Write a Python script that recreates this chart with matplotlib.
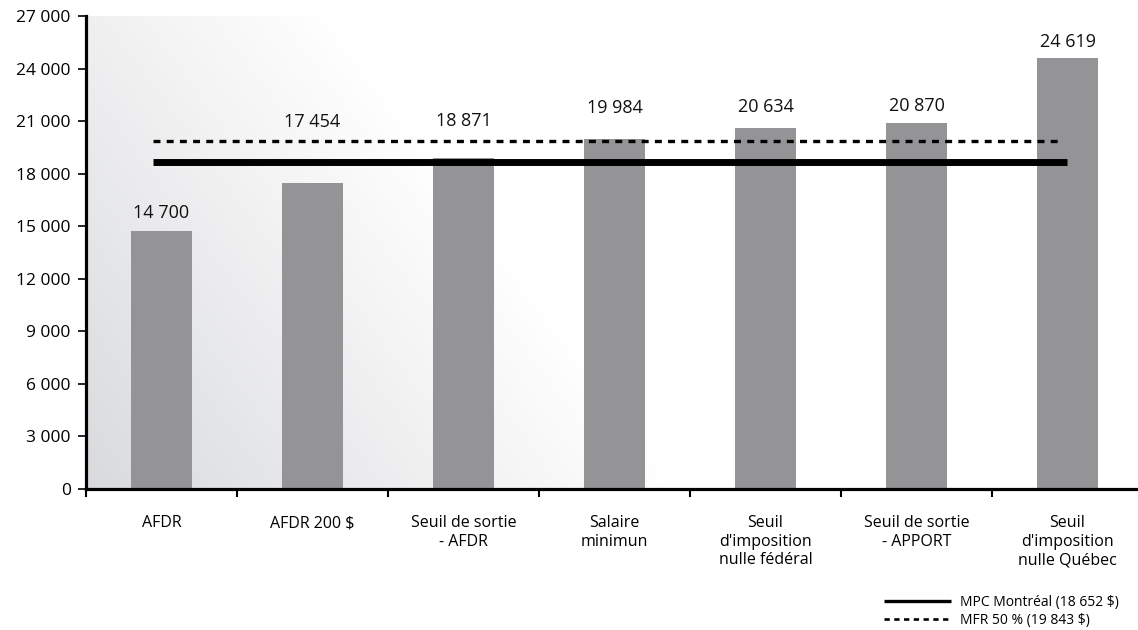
import numpy as np
import matplotlib
matplotlib.use("Agg")
import matplotlib.pyplot as plt
from matplotlib.lines import Line2D
from matplotlib.ticker import FuncFormatter

plt.rcParams['font.family'] = ['Open Sans', 'DejaVu Sans']

categories = ["AFDR", "AFDR 200 $", "Seuil de sortie\n- AFDR", "Salaire\nminimun",
              "Seuil\nd'imposition\nnulle fédéral", "Seuil de sortie\n- APPORT",
              "Seuil\nd'imposition\nnulle Québec"]
values = [14700, 17454, 18871, 19984, 20634, 20870, 24619]

mpc_label = "MPC Montréal (18 652 $)"
mpc_value = 18652
mfr_label = "MFR 50 % (19 843 $)"
mfr_value = 19843

yticks = list(range(0, 27001, 3000))

# label lift above each bar (points), keeps numbers clear of the two lines
label_lift = [13, 44, 27, 22, 15, 12.5, 11]

W, H = 1138, 630
fig = plt.figure(figsize=(W / 100, H / 100), dpi=100)
ax = fig.add_axes([86 / W, 141 / H, 1057 / W, 473 / H])

# diagonal gray-to-white wash behind the bars
gw, gh = 1057, 473
u = np.linspace(0, 1, 400)
v = np.linspace(0, 1, 200)
U, V = np.meshgrid(u, v)
t = np.clip((U * gw * 0.804 + V * gh * 0.595) / 477.6, 0, 1)
base = np.array([0.85, 0.855, 0.865])
img = base + (1 - base) * t[..., None]
ax.imshow(img, extent=(0, 1, 0, 1), transform=ax.transAxes, origin='lower',
          aspect='auto', zorder=0, interpolation='bilinear')

x = np.arange(len(values))
ax.bar(x, values, width=0.404, color='#949497', zorder=2)
for xi, val, lift in zip(x, values, label_lift):
    ax.annotate(f"{val:,}".replace(",", " "), (xi, val), xytext=(0, lift),
                textcoords='offset points', ha='center', va='center',
                fontsize=13, color='#111111')

lw_solid, lw_dash = 5.0, 2.4
ax.plot([-0.056, 5.997], [mpc_value] * 2, color='black', lw=lw_solid,
        solid_capstyle='butt', zorder=3)
ax.plot([-0.056, 5.95], [mfr_value] * 2, color='black', lw=lw_dash,
        linestyle=(0, (5 / lw_dash, 4.5 / lw_dash)), dash_capstyle='butt', zorder=3)

ax.set_xlim(-0.5, 6.5)
ax.set_ylim(0, 27000)
ax.set_yticks(yticks)
ax.yaxis.set_major_formatter(FuncFormatter(lambda y, p: f"{int(y):,}".replace(",", " ")))
ax.tick_params(axis='y', length=6, width=1.2, pad=5, labelsize=12.5, colors='black')

ax.set_xticks(x)
ax.set_xticklabels(categories, fontsize=11.5)
ax.set_xticks(np.arange(-0.5, 7, 1), minor=True)
ax.tick_params(axis='x', which='major', length=0, pad=19)
ax.tick_params(axis='x', which='minor', length=6, width=1.5)

for s in ['top', 'right']:
    ax.spines[s].set_visible(False)
for s in ['left', 'bottom']:
    ax.spines[s].set_linewidth(2.3)
    ax.spines[s].set_zorder(4)

handles = [Line2D([], [], color='black', lw=2.4, solid_capstyle='butt'),
           Line2D([], [], color='black', lw=1.9, linestyle=(0, (2.0, 1.7)),
                  dash_capstyle='butt')]
fig.legend(handles, [mpc_label, mfr_label], loc='upper left',
           bbox_to_anchor=(884 / W, 1 - 595 / H), frameon=False, fontsize=10,
           handlelength=4.8, handletextpad=0.7, labelspacing=0.2,
           borderpad=0, borderaxespad=0)

fig.savefig("out.png", dpi=100)
